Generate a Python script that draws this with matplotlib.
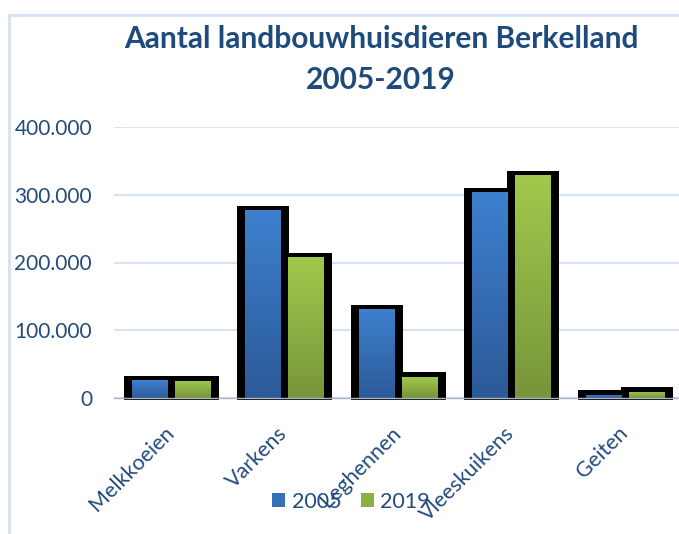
import numpy as np
import matplotlib
matplotlib.use("Agg")
import matplotlib.pyplot as plt
from matplotlib.colors import LinearSegmentedColormap
from matplotlib.patches import Patch
from matplotlib.lines import Line2D
from matplotlib.ticker import FuncFormatter

plt.rcParams['font.family'] = ['Lato', 'DejaVu Sans']

categories = ["Melkkoeien", "Varkens", "Leghennen", "Vleeskuikens", "Geiten"]
years = ["2005", "2019"]
vals_2005 = [26000, 277000, 131000, 304000, 4500]
vals_2019 = [25500, 208000, 31000, 329000, 9000]
yticks = [0, 100000, 200000, 300000, 400000]

text_col = "#234B7C"
grid_col = "#D8E4F4"
blue_top, blue_bot = "#3D80CE", "#2C5A98"
green_top, green_bot = "#A0C94C", "#78953A"

W, H = 679, 534
fig = plt.figure(figsize=(W / 100, H / 100), dpi=100)

# plot area in pixels
left_px, right_px = 114.25, 681.75
zero_px, top_px = 398, 127
ax = fig.add_axes([left_px / W, 1 - zero_px / H,
                   (right_px - left_px) / W, (zero_px - top_px) / H])

ymax = 400000
px_x = 5 / (right_px - left_px)      # data units per pixel, x
px_y = ymax / (zero_px - top_px)     # data units per pixel, y

x = np.arange(len(categories))
fill_w = 36 * px_x
off = 21.5 * px_x


def grad_bars(xpos, vals, ctop, cbot):
    cmap = LinearSegmentedColormap.from_list("g", [cbot, ctop])
    grad = np.linspace(1, 0, 100).reshape(-1, 1)
    vals = np.array(vals, dtype=float)
    # black border block behind every bar
    ax.bar(xpos, vals + 6.5 * px_y, fill_w + 16 * px_x, bottom=-2 * px_y,
           color="black", zorder=3, clip_on=False)
    bars = ax.bar(xpos, vals, fill_w, color="none", linewidth=0, zorder=4)
    for b in bars:
        x0, w, h = b.get_x(), b.get_width(), b.get_height()
        im = ax.imshow(grad, extent=[x0, x0 + w, 0, h], aspect="auto",
                       cmap=cmap, vmin=0, vmax=1, zorder=4,
                       interpolation="bilinear")
        im.set_clip_path(b)


grad_bars(x - off, vals_2005, blue_top, blue_bot)
grad_bars(x + off, vals_2019, green_top, green_bot)

ax.set_xlim(-0.5, 4.5)
ax.set_ylim(0, ymax)
ax.set_yticks(yticks)
ax.yaxis.set_major_formatter(FuncFormatter(lambda v, p: f"{int(v):,}".replace(",", ".")))
ax.grid(axis="y", color=grid_col, linewidth=1.6, zorder=0)
ax.set_axisbelow(True)
for s in ["top", "right", "left"]:
    ax.spines[s].set_visible(False)
ax.spines["bottom"].set_color("#A9B3C2")
ax.spines["bottom"].set_linewidth(1.0)
ax.spines["bottom"].set_zorder(5)

ax.tick_params(axis="y", length=0, pad=16, labelsize=15, labelcolor=text_col)
ax.set_xticks(x)
ax.set_xticklabels(categories, rotation=45, ha="right", va="center",
                   rotation_mode="anchor", fontsize=15.5, color=text_col)
ax.tick_params(axis="x", length=0, pad=23)

fig.text(381 / W, 1 - 39 / H, "Aantal landbouwhuisdieren Berkelland",
         ha="center", va="center", fontsize=21.5, fontweight="bold", color="#1F4A7C")
fig.text(381 / W, 1 - 80 / H, "2005-2019",
         ha="center", va="center", fontsize=21.5, fontweight="bold", color="#1F4A7C")

handles = [Patch(facecolor="#3570B8", edgecolor="none"),
           Patch(facecolor="#8CB043", edgecolor="none")]
fig.legend(handles, years, loc="center", ncol=2, frameon=False,
           bbox_to_anchor=(351 / W, 1 - 502 / H), bbox_transform=fig.transFigure,
           fontsize=15.5, labelcolor=text_col, handlelength=0.62, handleheight=0.62,
           handletextpad=0.3, columnspacing=0.9)

# chart frame
fig.add_artist(Line2D([9 / W, 9 / W], [0, 1 - 15 / H], color=grid_col, linewidth=2.2))
fig.add_artist(Line2D([9 / W, 1], [1 - 15 / H, 1 - 15 / H], color=grid_col, linewidth=2.2))

fig.savefig("out.png", dpi=100)
